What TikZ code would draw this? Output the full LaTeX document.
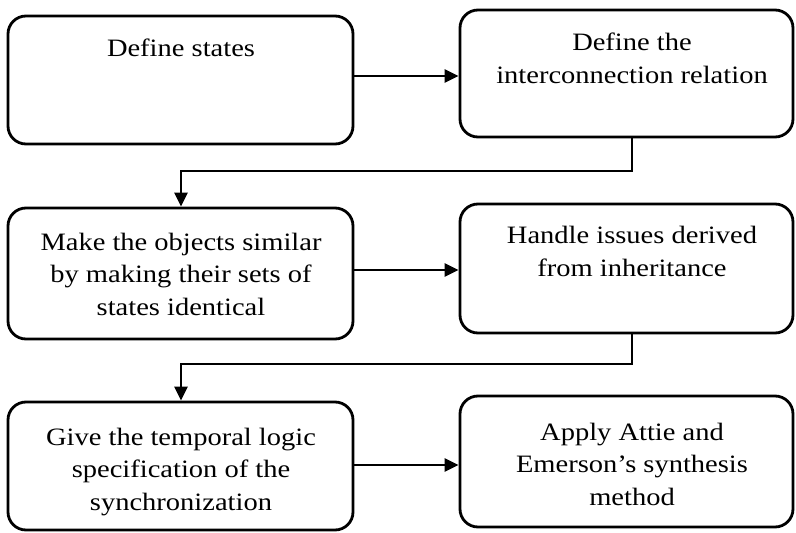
\documentclass[tikz,border=0pt]{standalone}
\usepackage{fontspec}
\setmainfont{Liberation Serif}[FakeStretch=1.14]
\usetikzlibrary{arrows.meta}
\begin{document}
\begin{tikzpicture}[x=1pt,y=-1pt,
  box/.style={draw, line width=2.8pt, rounded corners=18pt, inner sep=0pt},
  txt/.style={align=center, font=\fontsize{25}{32.5}\selectfont, inner sep=0pt, anchor=base},
  conn/.style={line width=2.6pt, -{Triangle[length=14pt,width=13pt]}}]
\useasboundingbox (0,0) rectangle (796,533);
% boxes
\node[box, minimum width=345pt, minimum height=128pt] (b1) at (180.5,80) {};
\node[box, minimum width=333pt, minimum height=127pt] (b2) at (626.5,73.5) {};
\node[box, minimum width=345pt, minimum height=131pt] (b3) at (180.5,273.5) {};
\node[box, minimum width=333pt, minimum height=129pt] (b4) at (626.5,268.5) {};
\node[box, minimum width=345pt, minimum height=128pt] (b5) at (180.5,466) {};
\node[box, minimum width=333pt, minimum height=131pt] (b6) at (626.5,461.5) {};
% texts (anchor = baseline of the last line)
\node[txt] (t1) at (181,56) {Define states};
\node[txt] (t2) at (632,83) {Define the\\interconnection relation};
\node[txt] (t3) at (181,315) {Make the objects similar\\by making their sets of\\states identical};
\node[txt] (t4) at (632,276) {Handle issues derived\\from inheritance};
\node[txt] (t5) at (181,510) {Give the temporal logic\\specification of the\\synchronization};
\node[txt] (t6) at (632,505) {Apply Attie and\\Emerson’s synthesis\\method};
% helper coordinates
\coordinate (y1) at (0,76);
\coordinate (y3) at (0,270);
\coordinate (y5) at (0,465);
\coordinate (k1) at (632,171);
\coordinate (k1b) at (181,171);
\coordinate (k2) at (632,364);
\coordinate (k2b) at (181,364);
% connectors
\draw[conn] (b1.east |- y1) -- (b2.west |- y1);
\draw[conn] (b3.east |- y3) -- (b4.west |- y3);
\draw[conn] (b5.east |- y5) -- (b6.west |- y5);
\draw[conn] (b2.south -| k1) -- (k1) -- (k1b) -- (b3.north -| k1b);
\draw[conn] (b4.south -| k2) -- (k2) -- (k2b) -- (b5.north -| k2b);
\end{tikzpicture}
\end{document}
